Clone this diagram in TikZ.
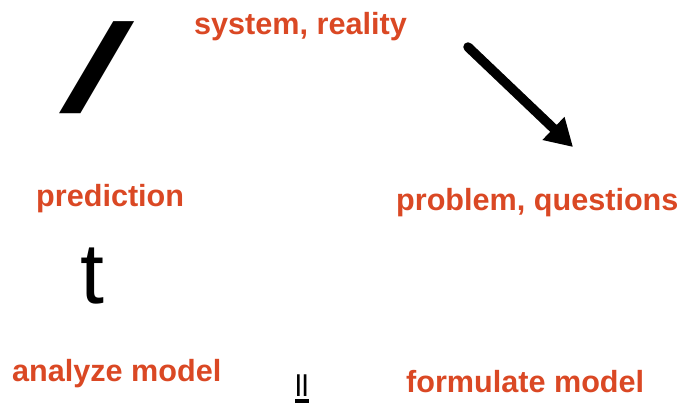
\documentclass[tikz,border=0pt]{standalone}
\usepackage{fontspec}
\setmainfont{Liberation Sans}
\usetikzlibrary{arrows.meta}
\definecolor{lab}{RGB}{218,72,36}
\tikzset{
  lbl/.style={anchor=base west, inner sep=0pt, text=lab, font=\fontsize{30.6}{36}\selectfont\bfseries},
  glyph/.style={anchor=base west, inner sep=0pt, text=black}
}
\begin{document}
\begin{tikzpicture}[x=1pt,y=1pt]
\useasboundingbox (0,0) rectangle (681,-404);
\node[lbl] (sys) at (194,-35) {system, reality};
\node[lbl] (pred) at (36,-206) {prediction};
\node[lbl] (prob) at (396,-211) {problem, questions};
\node[lbl] (ana) at (12,-381) {analyze model};
\node[lbl] (form) at (406,-392) {formulate model};
% slash
\node[anchor=south west, inner sep=0pt] (sl) at (59,-113.5) {\resizebox*{75pt}{92pt}{/}};
% t
\node[glyph, font=\fontsize{86}{90}\selectfont] (t) at (80,-303) {t};
% ll with underline
\node[glyph, font=\fontsize{30}{36}\selectfont] (ll) at (295,-396) {ll};
\fill ([yshift=-2.5pt]ll.base west) rectangle ([yshift=-6.5pt]ll.base east);
% arrow
\coordinate (a1) at (468,-47);
\coordinate (a2) at (573,-147);
\draw[line width=9.5pt, line cap=round, -{Triangle[length=27pt,width=30pt]}] (a1) -- (a2);
\end{tikzpicture}
\end{document}
